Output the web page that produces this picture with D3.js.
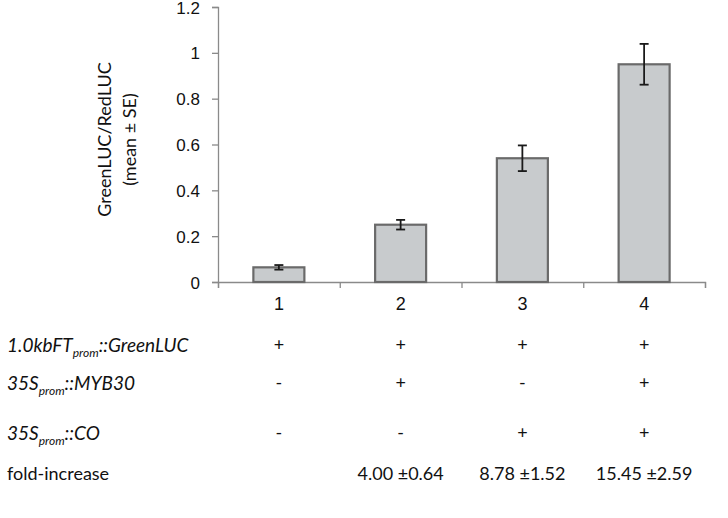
<!DOCTYPE html>
<html>
<head>
<meta charset="utf-8">
<style>
 body { margin: 0; background: #fff; }
 svg { font-family: Lato, "Open Sans", sans-serif; background: #fff; }
 .tick text { fill: #111; }
</style>
</head>
<body>
<svg width="728" height="518"></svg>
<script src="https://cdn.jsdelivr.net/npm/d3@7"></script>
<script>
// values
var categories = ["1", "2", "3", "4"];
var means = [0.064, 0.25, 0.54, 0.95];
var errors = [0.010, 0.021, 0.056, 0.089];
var yTicks = [0, 0.2, 0.4, 0.6, 0.8, 1, 1.2];
var yTickLabels = ["0", "0.2", "0.4", "0.6", "0.8", "1", "1.2"];

// construct table below the axis
var rowLabels = [
  ["1.0kbFT", "prom", "::GreenLUC"],
  ["35S", "prom", "::MYB30"],
  ["35S", "prom", "::CO"]
];
var greenLuc = ["+", "+", "+", "+"];
var myb30 = ["-", "+", "-", "+"];
var co = ["-", "-", "+", "+"];
var foldMean = ["", "4.00", "8.78", "15.45"];
var foldSE = ["", "0.64", "1.52", "2.59"];

var svg = d3.select("svg");
var plotLeft = 218, plotRight = 705, plotTop = 7, plotBottom = 282;

var x = d3.scaleBand().domain(categories).range([plotLeft, plotRight]).paddingInner(0).paddingOuter(0);
var y = d3.scaleLinear().domain([0, 1.2]).range([plotBottom, plotTop]);
var bw = 51;

// y axis
var yAxis = d3.axisLeft(y).tickValues(yTicks)
    .tickFormat(function(d, i) { return yTickLabels[i]; })
    .tickSize(6).tickPadding(12);
var yG = svg.append("g").attr("transform", "translate(" + plotLeft + ",0)").call(yAxis);
yG.selectAll("path, line").attr("stroke", "#8a8a8a").attr("stroke-width", 1.3);
yG.selectAll("text").style("font-size", "17px").attr("dy", "0.36em");

// x axis: boundary ticks + category labels
var xb = d3.scaleLinear().domain([0, categories.length]).range([plotLeft, plotRight]);
var xG = svg.append("g").attr("transform", "translate(0," + plotBottom + ")")
    .call(d3.axisBottom(xb).tickValues(d3.range(categories.length + 1)).tickFormat("").tickSize(6).tickSizeOuter(6));
xG.selectAll("path, line").attr("stroke", "#8a8a8a").attr("stroke-width", 1.3);
var xl = svg.append("g").attr("transform", "translate(0," + plotBottom + ")")
    .call(d3.axisBottom(x).tickSize(0).tickPadding(15));
xl.select(".domain").remove();
xl.selectAll("text").style("font-size", "18px");

function cx(i) { return x(categories[i]) + x.bandwidth() / 2; }

// bars
svg.selectAll(".bar").data(means).enter().append("rect")
    .attr("class", "bar")
    .attr("x", function(d, i) { return cx(i) - bw / 2; })
    .attr("width", bw)
    .attr("y", function(d) { return y(d); })
    .attr("height", function(d) { return y(0) - y(d); })
    .attr("fill", "#c8cbcd")
    .attr("stroke", "#6a6a6a")
    .attr("stroke-width", 2.2);

// error bars
var eg = svg.selectAll(".err").data(means).enter().append("g").attr("class", "err")
    .attr("stroke", "#1a1a1a").attr("stroke-width", 1.8);
eg.append("line")
    .attr("x1", function(d, i) { return cx(i); }).attr("x2", function(d, i) { return cx(i); })
    .attr("y1", function(d, i) { return y(d + errors[i]); })
    .attr("y2", function(d, i) { return y(d - errors[i]); });
[1, -1].forEach(function(s) {
  eg.append("line")
    .attr("x1", function(d, i) { return cx(i) - 4.5; }).attr("x2", function(d, i) { return cx(i) + 4.5; })
    .attr("y1", function(d, i) { return y(d + s * errors[i]); })
    .attr("y2", function(d, i) { return y(d + s * errors[i]); });
});

// y label
var yl = svg.append("text")
    .attr("transform", "translate(111," + ((plotTop + plotBottom) / 2 - 5) + ") rotate(-90)")
    .attr("text-anchor", "middle")
    .style("font-size", "18px").attr("fill", "#111");
yl.append("tspan").attr("x", 0).attr("y", 0).text("GreenLUC/RedLUC");
yl.append("tspan").attr("x", 0).attr("y", 25).text("(mean \u00b1 SE)");

// table
var rowY = [352, 390, 440];
var rowSigns = [greenLuc, myb30, co];
rowLabels.forEach(function(parts, r) {
  var t = svg.append("text").attr("x", 7).attr("y", rowY[r])
      .style("font-size", "19px").style("font-style", "italic").attr("fill", "#111");
  t.append("tspan").text(parts[0]);
  t.append("tspan").attr("dy", 5).style("font-size", "12px").text(parts[1]);
  t.append("tspan").attr("dy", -5).text(parts[2]);
  svg.selectAll(".sign" + r).data(rowSigns[r]).enter().append("text")
      .attr("x", function(d, i) { return cx(i); })
      .attr("y", rowY[r] - 1)
      .attr("text-anchor", "middle")
      .style("font-size", "18px").attr("fill", "#111")
      .text(function(d) { return d; });
});

svg.append("text").attr("x", 7).attr("y", 480)
    .style("font-size", "18px").attr("fill", "#111").text("fold-increase");
svg.selectAll(".fold").data(foldMean).enter().append("text")
    .attr("x", function(d, i) { return cx(i); })
    .attr("y", 480)
    .attr("text-anchor", "middle")
    .style("font-size", "18px").attr("fill", "#111")
    .text(function(d, i) { return d ? d + " \u00b1" + foldSE[i] : ""; });
</script>
</body>
</html>
